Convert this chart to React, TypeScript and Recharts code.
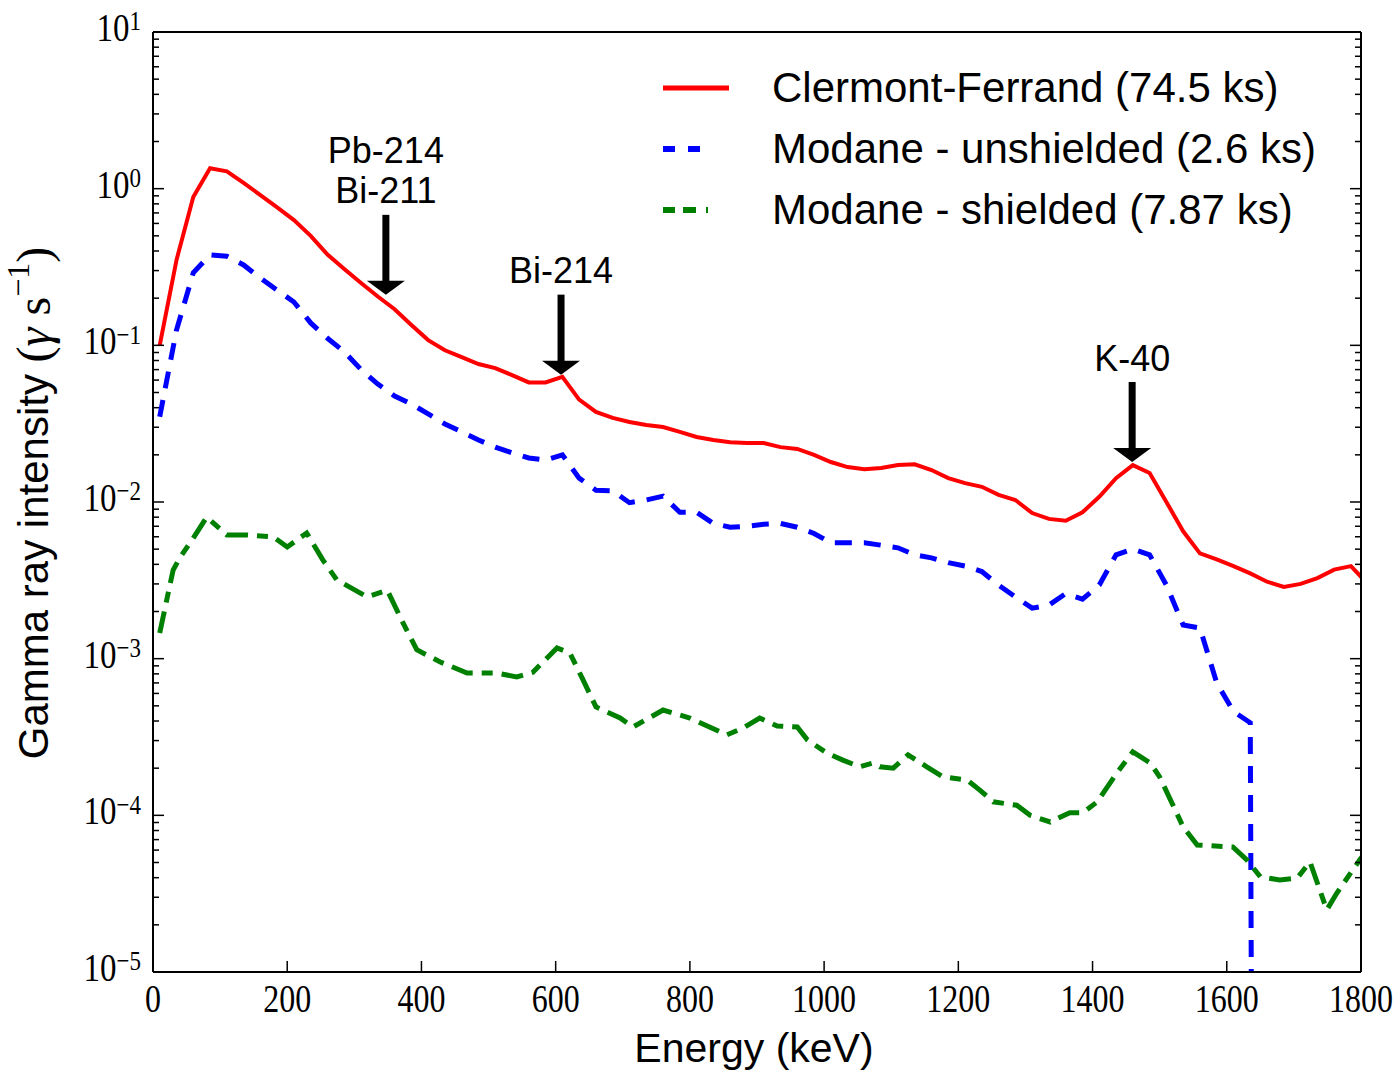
import React from 'react';
import { LineChart, Line, XAxis, YAxis, ReferenceDot, Legend } from 'recharts';

// bin centres (keV) shared by the Clermont-Ferrand and unshielded Modane spectra
const energies = [
  10, 35, 60, 85, 110, 135, 160, 185, 210, 235, 260, 285, 310, 335, 360, 385, 410, 435, 460, 485,
  510, 535, 560, 585, 610, 635, 660, 685, 710, 735, 760, 785, 810, 835, 860, 885, 910, 935, 960, 985,
  1010, 1035, 1060, 1085, 1110, 1135, 1160, 1185, 1210, 1235, 1260, 1285, 1310, 1335, 1360, 1385,
  1410, 1435, 1460, 1485, 1510, 1535, 1560, 1585, 1610, 1635, 1660, 1685, 1710, 1735, 1760, 1785, 1810,
];

const clermontFerrand = [
  0.1, 0.35, 0.885, 1.35, 1.29, 1.09, 0.91, 0.76, 0.63, 0.5, 0.38, 0.307, 0.25, 0.205, 0.17, 0.135,
  0.108, 0.093, 0.084, 0.076, 0.0716, 0.0646, 0.058, 0.058, 0.063, 0.045, 0.0376, 0.0344, 0.0324,
  0.031, 0.0301, 0.028, 0.026, 0.0249, 0.0241, 0.0238, 0.0238, 0.0224, 0.0218, 0.02, 0.018, 0.0167,
  0.0162, 0.0165, 0.0172, 0.0174, 0.016, 0.0142, 0.0132, 0.0125, 0.0111, 0.0103, 0.0085, 0.0078,
  0.0076, 0.0086, 0.0108, 0.0142, 0.0172, 0.0153, 0.01, 0.0065, 0.0047, 0.0043, 0.0039, 0.0035,
  0.0031, 0.00287, 0.003, 0.00327, 0.0037, 0.0039, 0.003,
];

// unshielded run has no counts above ~1640 keV (last value stands for "nothing")
const modaneUnshielded = [
  0.035, 0.125, 0.29, 0.378, 0.37, 0.326, 0.269, 0.225, 0.189, 0.139,
  0.111, 0.091, 0.07, 0.0566, 0.0475, 0.0422, 0.0365, 0.0315, 0.028, 0.0249,
  0.0224, 0.0206, 0.0191, 0.0185, 0.02, 0.0142, 0.0119, 0.0118, 0.0099, 0.0103,
  0.0109, 0.0086, 0.0086, 0.0073, 0.0069, 0.007, 0.0072, 0.0073, 0.0069, 0.0063,
  0.0055, 0.0055, 0.0055, 0.0053, 0.0051, 0.0046, 0.0044, 0.0041, 0.0039, 0.0036,
  0.00295, 0.00248, 0.0021, 0.0022, 0.0026, 0.0024, 0.00295, 0.0046, 0.005, 0.0046,
  0.00295, 0.00164, 0.00157, 0.0007, 0.00046, 0.00039, 1e-30,
];

const shieldedEnergies = [
  10, 30, 40, 60, 80, 110, 140, 179, 200, 229,
  253, 274, 319, 349, 372, 393, 428, 468, 512, 542,
  566, 602, 621, 641, 660, 696, 715, 760, 775, 800,
  855, 879, 904, 930, 960, 975, 1004, 1028, 1053, 1073,
  1083, 1103, 1125, 1153, 1177, 1213, 1232, 1252, 1287, 1307,
  1337, 1366, 1386, 1407, 1436, 1460, 1486, 1500, 1535, 1556,
  1609, 1630, 1650, 1679, 1705, 1724, 1749, 1764, 1798, 1810,
];

const modaneShielded = [
  0.00146, 0.00368, 0.0044, 0.00589, 0.008, 0.00616, 0.00616, 0.006, 0.00516, 0.00634,
  0.00427, 0.00318, 0.00248, 0.00274, 0.00171, 0.00114, 0.000953, 0.00081, 0.00081, 0.000764,
  0.00082, 0.00117, 0.00109, 0.00073, 0.000492, 0.000418, 0.000366, 0.00047, 0.00045, 0.000418,
  0.000326, 0.00036, 0.000418, 0.000372, 0.000366, 0.000303, 0.00025, 0.000225, 0.000204, 0.000216,
  0.000204, 0.0002, 0.000243, 0.000204, 0.000176, 0.000168, 0.000145, 0.000122, 0.000116, 0.0001,
  0.0000907, 0.000104, 0.000104, 0.000122, 0.000186, 0.000254, 0.000216, 0.000176, 0.0000843, 0.0000647,
  0.0000628, 0.0000519, 0.0000405, 0.0000387, 0.0000398, 0.0000504, 0.0000249, 0.0000319, 0.0000519, 0.00006,
];

const xTicks = [0, 200, 400, 600, 800, 1000, 1200, 1400, 1600, 1800];
const decades = [-5, -4, -3, -2, -1, 0];
const yTicks: number[] = [];
decades.forEach((k) => {
  for (let m = 1; m <= 9; m++) yTicks.push(Number((m * Math.pow(10, k)).toPrecision(3)));
});
yTicks.push(10);

const peaks = [
  { lines: ['Pb-214', 'Bi-211'], energy: 347, intensity: 0.21 },
  { lines: ['Bi-214'], energy: 608, intensity: 0.065 },
  { lines: ['K-40'], energy: 1459, intensity: 0.018 },
];

const series = [
  { name: 'Clermont-Ferrand (74.5 ks)', color: '#ff0000', width: 4, dash: undefined, legendDash: undefined, x: energies, y: clermontFerrand },
  { name: 'Modane - unshielded (2.6 ks)', color: '#0000ff', width: 5, dash: '17 12', legendDash: '12 13 12 40', x: energies, y: modaneUnshielded },
  { name: 'Modane - shielded (7.87 ks)', color: '#008000', width: 5, dash: '22 9 11 9', legendDash: '12 8 13 10 2 30', x: shieldedEnergies, y: modaneShielded },
];

const serif = '"Liberation Serif", "DejaVu Serif", serif';
const sans = '"Liberation Sans", Arial, sans-serif';

const isDecade = (v: number) => Math.abs(Math.log10(v) - Math.round(Math.log10(v))) < 1e-6;

const LeftTick = (props: any) => {
  const { x, y, payload } = props;
  const major = isDecade(payload.value);
  const exp = Math.round(Math.log10(payload.value));
  return (
    <g>
      <line x1={x} y1={y} x2={x + (major ? 11 : 6)} y2={y} stroke="#000" strokeWidth={1.5} />
      {major && (
        <g transform={`translate(${x - 12},${y + 9}) scale(1,1.2)`}>
          <text x={0} y={0} textAnchor="end" fontFamily={serif} fontSize={33} fill="#000">
            10
            <tspan dy={-9} fontSize={23}>{exp < 0 ? '\u2212' + Math.abs(exp) : String(exp)}</tspan>
          </text>
        </g>
      )}
    </g>
  );
};

const RightTick = (props: any) => {
  const { x, y, payload } = props;
  const major = isDecade(payload.value);
  return <line x1={x} y1={y} x2={x - (major ? 11 : 6)} y2={y} stroke="#000" strokeWidth={1.5} />;
};

const BottomTick = (props: any) => {
  const { x, y, payload } = props;
  return (
    <g>
      <line x1={x} y1={y} x2={x} y2={y - 11} stroke="#000" strokeWidth={1.5} />
      <g transform={`translate(${x},${y + 40}) scale(0.97,1.2)`}>
        <text x={0} y={0} textAnchor="middle" fontFamily={serif} fontSize={33} fill="#000">
          {payload.value}
        </text>
      </g>
    </g>
  );
};

const TopTick = (props: any) => {
  const { x, y } = props;
  return <line x1={x} y1={y} x2={x} y2={y + 11} stroke="#000" strokeWidth={1.5} />;
};

const YLabel = (props: any) => {
  const vb = props.viewBox || { x: 0, y: 32, width: 153, height: 940 };
  const cx = vb.x + 33;
  const cy = vb.y + vb.height / 2 + 1;
  return (
    <text
      transform={`translate(${cx},${cy}) rotate(-90)`}
      textAnchor="middle"
      dominantBaseline="central"
      fontFamily={sans}
      fontSize={42}
      fill="#000"
    >
      Gamma ray intensity{' '}
      <tspan fontFamily={serif} fontSize={48}>(</tspan>
      <tspan fontFamily={serif} fontSize={48} fontStyle="italic">γ</tspan>
      <tspan fontFamily={serif} fontSize={48}> s</tspan>
      <tspan fontFamily={serif} fontSize={32} dy={-15}>{'\u22121'}</tspan>
      <tspan fontFamily={serif} fontSize={48} dy={15}>)</tspan>
    </text>
  );
};

const XLabel = (props: any) => {
  const vb = props.viewBox || { x: 153, y: 972, width: 1208, height: 100 };
  return (
    <text x={vb.x + vb.width / 2 - 3} y={vb.y + 90} textAnchor="middle" fontFamily={sans} fontSize={41} fill="#000">
      Energy (keV)
    </text>
  );
};

const PeakArrow = (lines: string[]) => (props: any) => {
  const { cx, cy } = props;
  return (
    <g>
      <rect x={cx - 3.5} y={cy - 80} width={7} height={68} fill="#000" />
      <polygon points={`${cx - 19},${cy - 14} ${cx + 19},${cy - 14} ${cx},${cy}`} fill="#000" />
      {lines.map((t, i) => (
        <text
          key={t}
          x={cx}
          y={cy - 104 - (lines.length - 1 - i) * 40}
          textAnchor="middle"
          dominantBaseline="central"
          fontFamily={sans}
          fontSize={36}
          fill="#000"
        >
          {t}
        </text>
      ))}
    </g>
  );
};

const LegendBox = () => (
  <div style={{ fontFamily: sans, fontSize: 42, color: '#000' }}>
    {series.map((s) => (
      <div key={s.name} style={{ display: 'flex', alignItems: 'center', height: 61 }}>
        <svg width={66} height={10}>
          <line x1={0} y1={5} x2={66} y2={5} stroke={s.color} strokeWidth={s.width + 1} strokeDasharray={s.legendDash} />
        </svg>
        <span style={{ marginLeft: 43, whiteSpace: 'nowrap', lineHeight: '61px' }}>{s.name}</span>
      </div>
    ))}
  </div>
);

export default function App() {
  return (
    <div style={{ position: 'absolute', left: 0, top: 0, width: 1396, height: 1072, overflow: 'hidden' }}>
      <LineChart width={1396} height={1072} margin={{ top: 31, right: 34, bottom: 0, left: 0 }}>
        <XAxis
          xAxisId="b"
          dataKey="e"
          type="number"
          domain={[0, 1800]}
          ticks={xTicks}
          interval={0}
          allowDataOverflow
          height={100}
          tickSize={0}
          tickMargin={0}
          tickLine={false}
          axisLine={{ stroke: '#000', strokeWidth: 2 }}
          tick={(p: any) => <BottomTick {...p} />}
          label={(p: any) => <XLabel {...p} />}
        />
        <XAxis
          xAxisId="t"
          orientation="top"
          type="number"
          domain={[0, 1800]}
          ticks={xTicks}
          interval={0}
          allowDataOverflow
          height={1}
          tickSize={0}
          tickMargin={0}
          tickLine={false}
          axisLine={{ stroke: '#000', strokeWidth: 2 }}
          tick={(p: any) => <TopTick {...p} />}
        />
        <YAxis
          yAxisId="l"
          type="number"
          scale="log"
          domain={[1e-5, 10]}
          ticks={yTicks}
          interval={0}
          allowDataOverflow
          width={153}
          tickSize={0}
          tickMargin={0}
          tickLine={false}
          axisLine={{ stroke: '#000', strokeWidth: 2 }}
          tick={(p: any) => <LeftTick {...p} />}
          label={(p: any) => <YLabel {...p} />}
        />
        <YAxis
          yAxisId="r"
          orientation="right"
          type="number"
          scale="log"
          domain={[1e-5, 10]}
          ticks={yTicks}
          interval={0}
          allowDataOverflow
          width={1}
          tickSize={0}
          tickMargin={0}
          tickLine={false}
          axisLine={{ stroke: '#000', strokeWidth: 2 }}
          tick={(p: any) => <RightTick {...p} />}
        />
        {series.map((s) => (
          <Line
            key={s.name}
            xAxisId="b"
            yAxisId="l"
            name={s.name}
            data={s.y.map((v, i) => ({ e: s.x[i], v }))}
            dataKey="v"
            type="linear"
            stroke={s.color}
            strokeWidth={s.width}
            strokeDasharray={s.dash}
            dot={false}
            activeDot={false}
            isAnimationActive={false}
          />
        ))}
        {peaks.map((p) => (
          <ReferenceDot
            key={p.lines.join('/')}
            xAxisId="b"
            yAxisId="l"
            x={p.energy}
            y={p.intensity}
            r={1}
            ifOverflow="visible"
            shape={PeakArrow(p.lines)}
          />
        ))}
        <Legend
          layout="vertical"
          align="center"
          verticalAlign="middle"
          wrapperStyle={{ top: 57, left: 663, width: 720, bottom: 'auto', right: 'auto' }}
          content={() => <LegendBox />}
        />
      </LineChart>
    </div>
  );
}
